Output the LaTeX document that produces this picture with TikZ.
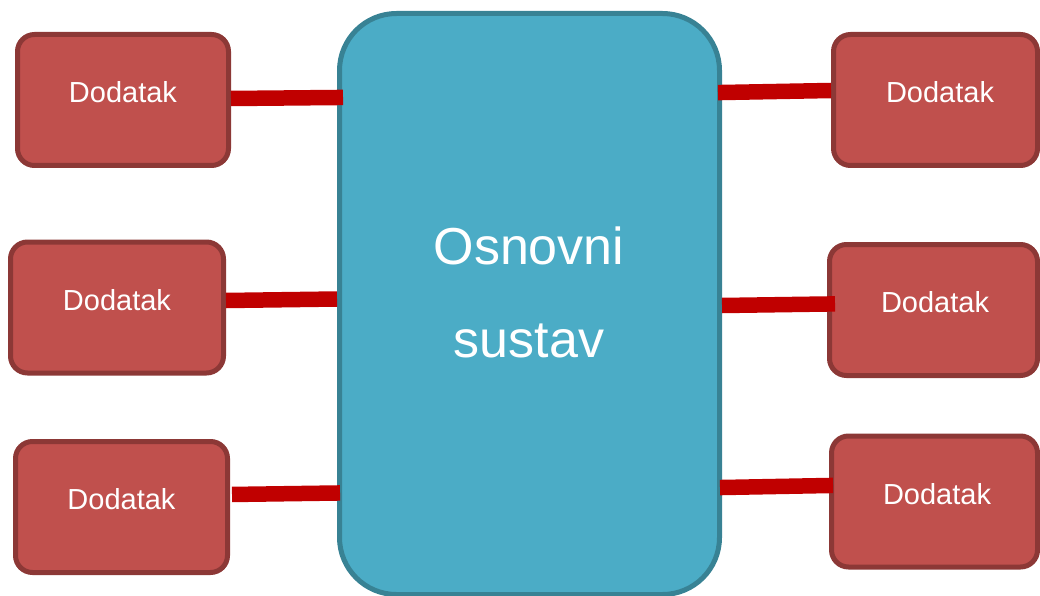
\documentclass[tikz,border=0pt]{standalone}
\usepackage{fontspec}
\setmainfont{Liberation Sans}
\definecolor{addfill}{HTML}{C0504D}
\definecolor{adddraw}{HTML}{8C3836}
\definecolor{mainfill}{HTML}{4BACC6}
\definecolor{maindraw}{HTML}{388294}
\definecolor{linkred}{HTML}{C00000}
\begin{document}
\begin{tikzpicture}[x=1pt,y=-1pt,
  addbox/.style={draw=adddraw, fill=addfill, line width=5pt, rounded corners=17pt,
    minimum height=131pt, inner sep=0pt, text=white,
    font=\fontsize{29}{35}\selectfont, text height=21pt, text depth=15.5pt},
  mainbox/.style={draw=maindraw, fill=mainfill, line width=5pt, rounded corners=57pt,
    minimum width=380pt, minimum height=581pt, inner sep=0pt},
  maintext/.style={text=white, font=\fontsize{52}{93}\selectfont, align=center, inner sep=0pt},
  link/.style={draw=linkred, line width=15.5pt}]
\useasboundingbox (0,0) rectangle (1040,596);
\node[mainbox] (main) at (529.5,304) {};
\node[addbox, minimum width=211pt] (tl) at (123,100) {Dodatak};
\node[addbox, minimum width=213pt] (ml) at (117,307.5) {Dodatak};
\node[addbox, minimum width=212pt] (bl) at (121.5,507) {Dodatak};
\node[addbox, minimum width=204pt] (tr) at (935.5,100) {\hspace*{9pt}Dodatak};
\node[addbox, minimum width=208pt] (mr) at (933.5,310) {\hspace*{3pt}Dodatak};
\node[addbox, minimum width=206pt] (br) at (934.5,501.5) {\hspace*{5pt}Dodatak};
\node[maintext] (title) at (529,292) {Osnovni\\sustav};
\draw[link, shorten >=-6pt] (tl.east |- 0,98.5) -- (main.west |- 0,97.5);
\draw[link] (ml.east |- 0,300.5) -- (main.west |- 0,299);
\draw[link, shorten >=-3pt, shorten <=2pt] (bl.east |- 0,494.5) -- (main.west |- 0,493);
\draw[link, shorten <=-4pt] (main.east |- 0,92.5) -- (tr.west |- 0,90.5);
\draw[link, shorten >=-8pt] (main.east |- 0,305.5) -- (mr.west |- 0,304);
\draw[link, shorten <=-2pt, shorten >=-4pt] (main.east |- 0,487.5) -- (br.west |- 0,485.5);
\end{tikzpicture}
\end{document}
